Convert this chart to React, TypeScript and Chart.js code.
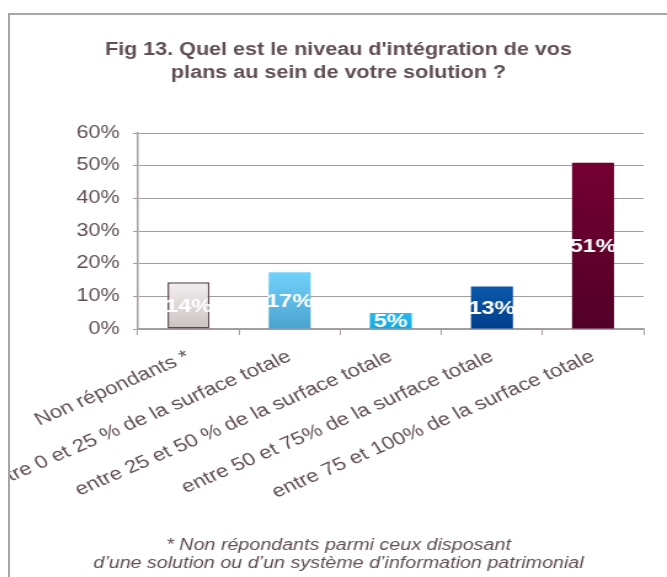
import React, { useEffect, useRef } from "react";
import { Chart, registerables } from "chart.js";

Chart.register(...registerables);

const categories = [
  "Non répondants *",
  "entre 0 et 25 % de la surface totale",
  "entre 25 et 50 % de la surface totale",
  "entre 50 et 75% de la surface totale",
  "entre 75 et 100% de la surface totale",
];
const values = [14.3, 17.4, 4.9, 13.0, 50.9];
const valueLabels = ["14%", "17%", "5%", "13%", "51%"];
const barTopColors = ["#f3eff0", "#72d2fb", "#2bbaf0", "#0b59ab", "#740031"];
const barBottomColors = ["#cbc1c2", "#4aa3cf", "#12a7e1", "#003e8b", "#520027"];
const barBorderColors = ["#5b4a4d", "rgba(0,0,0,0)", "rgba(0,0,0,0)", "rgba(0,0,0,0)", "rgba(0,0,0,0)"];
const barBorderWidths = [1.5, 0, 0, 0, 0];
const yTicks = [0, 10, 20, 30, 40, 50, 60];
const titleLines = ["Fig 13. Quel est le niveau d'intégration de vos", "plans au sein de votre solution ?"];
const footnoteLines = [
  "* Non répondants parmi ceux disposant",
  "d\u2019une solution ou d\u2019un système d\u2019information patrimonial",
];

const FONT = '"Liberation Sans", Arial, sans-serif';
const TEXT = "#5f4f52";
const AXIS = "#a59d9f";
const STRETCH = 1.23;
const CANVAS_W = 534;
const CANVAS_H = 562;

const valueLabelPlugin = {
  id: "valueLabels",
  afterDatasetsDraw(chart: any) {
    const ctx = chart.ctx;
    const meta = chart.getDatasetMeta(0);
    ctx.save();
    ctx.font = `bold 19px ${FONT}`;
    ctx.fillStyle = "#ffffff";
    ctx.textAlign = "center";
    ctx.textBaseline = "middle";
    meta.data.forEach((el: any, i: number) => {
      const p = el.getProps(["x", "y", "base"], true);
      ctx.fillText(valueLabels[i], p.x, (p.y + p.base) / 2 + 1);
    });
    ctx.restore();
  },
};

export default function App() {
  const ref = useRef<HTMLCanvasElement | null>(null);

  useEffect(() => {
    if (!ref.current) return;
    Chart.defaults.font.family = FONT;
    const chart = new Chart(ref.current, {
      type: "bar",
      data: {
        labels: categories,
        datasets: [
          {
            data: values,
            backgroundColor: (c: any) => {
              const i = c.dataIndex ?? 0;
              const chart = c.chart;
              if (!chart.chartArea || !chart.scales.y) return barTopColors[i];
              const ys = chart.scales.y;
              const top = ys.getPixelForValue(values[i]);
              const bottom = ys.getPixelForValue(0);
              const g = chart.ctx.createLinearGradient(0, top, 0, bottom);
              g.addColorStop(0, barTopColors[i]);
              g.addColorStop(1, barBottomColors[i]);
              return g;
            },
            borderColor: barBorderColors,
            borderWidth: barBorderWidths,
            borderSkipped: false,
            barPercentage: 0.415,
            categoryPercentage: 1,
          },
        ],
      },
      options: {
        responsive: false,
        animation: false,
        devicePixelRatio: 1,
        layout: { padding: { left: 19, right: 19, top: 0, bottom: 0 } },
        plugins: {
          legend: { display: false },
          tooltip: { enabled: false },
          title: {
            display: true,
            text: titleLines,
            color: TEXT,
            font: { family: FONT, size: 17.5, weight: "bold", lineHeight: 23 / 17.5 },
            padding: { top: 23.5, bottom: 48.5 },
          },
          subtitle: {
            display: true,
            position: "bottom",
            text: footnoteLines,
            color: TEXT,
            font: { family: FONT, size: 16, style: "italic", lineHeight: 17.5 / 16 },
            padding: { top: 8.25, bottom: 4.75 },
          },
        },
        scales: {
          x: {
            type: "category",
            offset: true,
            grid: {
              display: true,
              drawOnChartArea: false,
              drawTicks: true,
              tickLength: 6,
              color: AXIS,
              offset: true,
            },
            border: { display: true, color: AXIS, width: 1.5 },
            ticks: {
              autoSkip: false,
              minRotation: 28,
              maxRotation: 28,
              padding: 11,
              color: TEXT,
              font: { family: FONT, size: 18 },
            },
            afterFit: (s: any) => {
              s.height = 200;
            },
          },
          y: {
            min: 0,
            max: 60,
            afterBuildTicks: (s: any) => {
              s.ticks = yTicks.map((v) => ({ value: v }));
            },
            ticks: {
              callback: (v: any) => `${v}%`,
              padding: 11,
              color: TEXT,
              font: { family: FONT, size: 17.5 },
            },
            grid: { color: AXIS, lineWidth: 1, tickLength: 4, drawTicks: true },
            border: { display: true, color: AXIS, width: 1.5 },
            afterFit: (s: any) => {
              s.width = 85;
            },
          },
        },
      } as any,
      plugins: [valueLabelPlugin],
    });
    return () => chart.destroy();
  }, []);

  return (
    <div
      style={{
        position: "fixed",
        left: 8,
        top: 13,
        width: 659,
        height: 564,
        overflow: "hidden",
      }}
    >
      <div
        style={{
          width: 720,
          height: 620,
          border: "2px solid #a6a6a6",
          background: "#ffffff",
          boxSizing: "border-box",
        }}
      >
        <canvas
          ref={ref}
          width={CANVAS_W}
          height={CANVAS_H}
          style={{ width: `${Math.round(CANVAS_W * STRETCH)}px`, height: `${CANVAS_H}px`, display: "block" }}
        />
      </div>
    </div>
  );
}
